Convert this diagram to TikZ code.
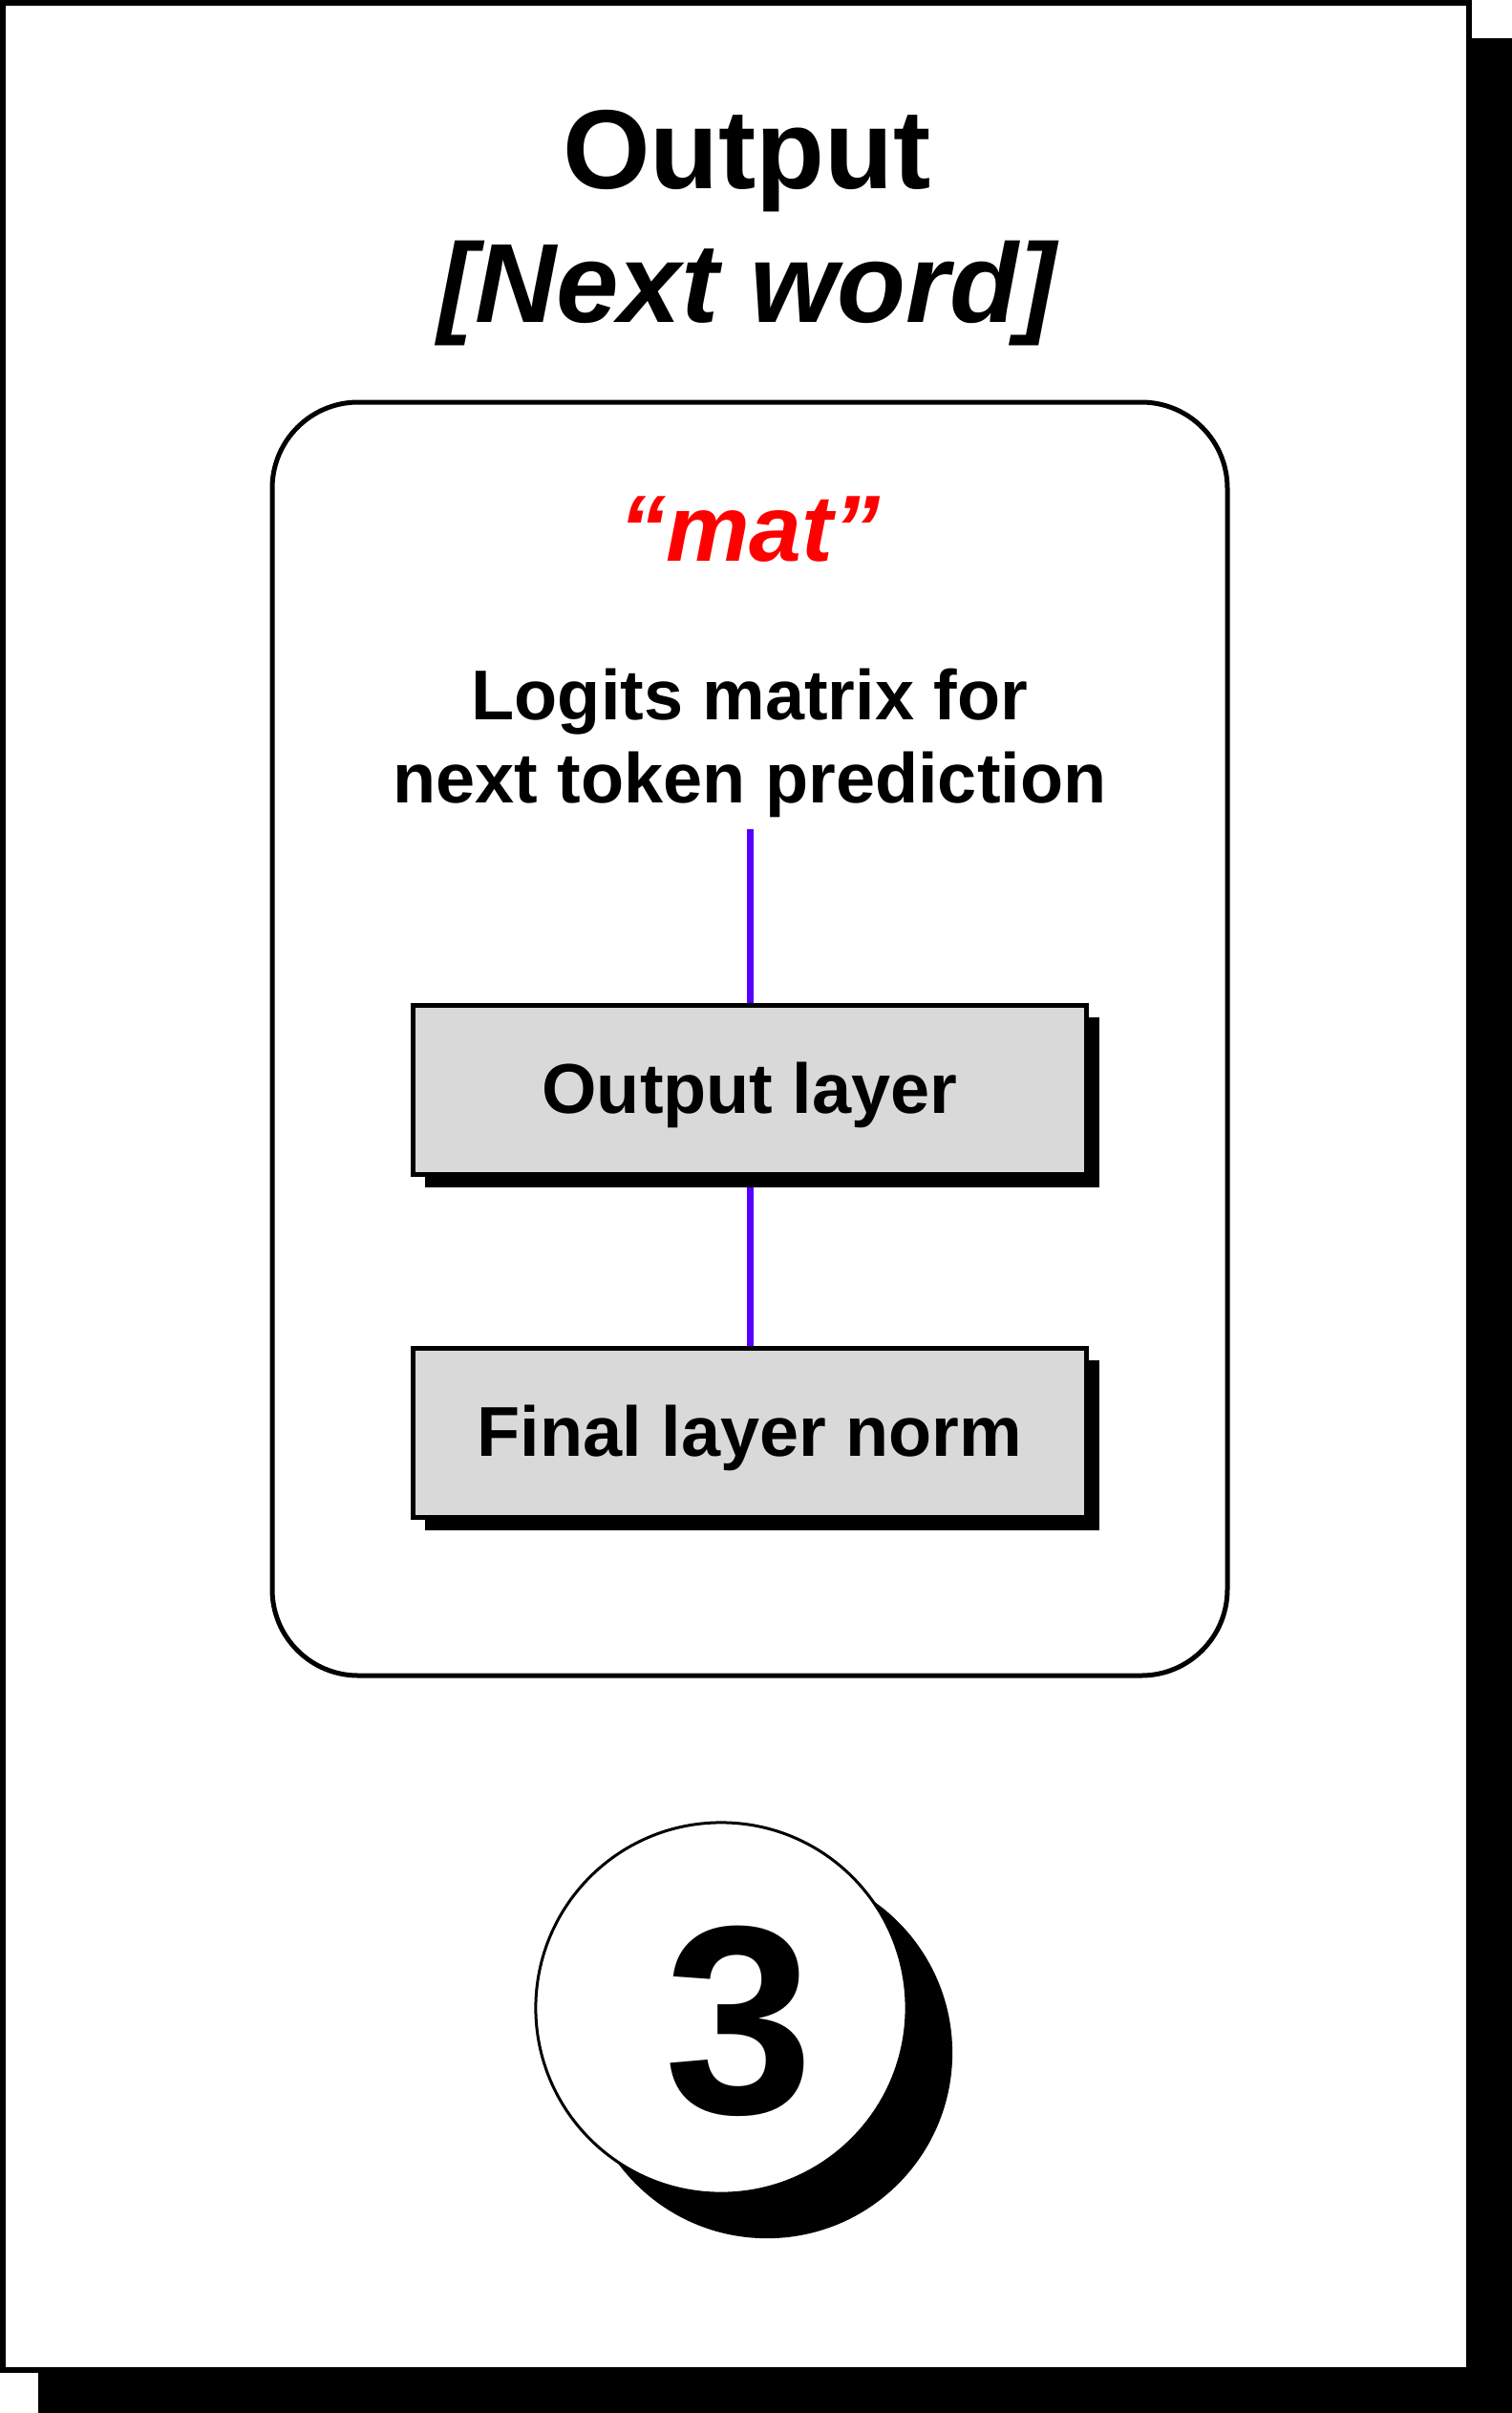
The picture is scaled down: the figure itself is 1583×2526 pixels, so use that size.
\documentclass[tikz,border=0pt]{standalone}
\usepackage{fontspec}
\setmainfont{Liberation Sans}
\usepackage{xcolor}
\usepackage{tikz}
\usetikzlibrary{arrows.meta,positioning,shadows,backgrounds}

\definecolor{linkblue}{RGB}{85,0,255}
\definecolor{boxgray}{RGB}{217,217,217}
\definecolor{tokenred}{RGB}{255,0,0}

\begin{document}
\begin{tikzpicture}[
  x=0.01cm, y=-0.01cm,
  title/.style={anchor=base, font=\fontsize{33.5}{40}\selectfont\bfseries},
  layer/.style={rectangle, draw=black, line width=0.045cm, fill=boxgray, minimum width=7.05cm, minimum height=1.77cm, text height=1.6em, text depth=0.21em, font=\fontsize{21}{25}\selectfont\bfseries, drop shadow={shadow xshift=0.13cm, shadow yshift=-0.13cm, fill=black, opacity=1}},
  badge/.style={circle, draw=black, line width=0.03cm, fill=white, minimum size=3.88cm, drop shadow={shadow xshift=0.48cm, shadow yshift=-0.47cm, fill=black, opacity=1}},
  edge/.style={line width=0.07cm, draw=linkblue}
]
\useasboundingbox (0,0) rectangle (1583,2526);

% Card with its shadow
\begin{scope}[on background layer]
\fill[black] (40,40) rectangle (1583,2526);
\draw[fill=white, line width=0.06cm] (3,3) rectangle (1538,2481);
\draw[line width=0.05cm, rounded corners=0.9cm] (285,421) rectangle (1285,1754);
\end{scope}

% Heading
\node[title] (out) at (782,197) {Output};
\node[title, font=\fontsize{33.5}{40}\selectfont\bfseries\itshape] (next) at (782,337) {[Next word]};

% Predicted token
\node[anchor=base, text=tokenred, font=\fontsize{28}{30}\selectfont\bfseries\itshape] (mat) at (785,587) {“mat”};
\node[align=center, font=\fontsize{21}{24.7}\selectfont\bfseries] (logits) at (785,778) {Logits matrix for\\next token prediction};

% Layers
\node[layer] (outlayer) at (785,1141) {Output layer};
\node[layer] (norm) at (785,1500) {Final layer norm};

\begin{scope}[on background layer]
\draw[edge] (logits.south) -- (outlayer.north);
\draw[edge] (outlayer.south) -- (norm.north);
\end{scope}

% Step number
\node[badge] (step) at (755,2102) {};
\node[anchor=base, font=\fontsize{80}{80}\selectfont\bfseries] (num) at (774,2212) {3};

\end{tikzpicture}
\end{document}
